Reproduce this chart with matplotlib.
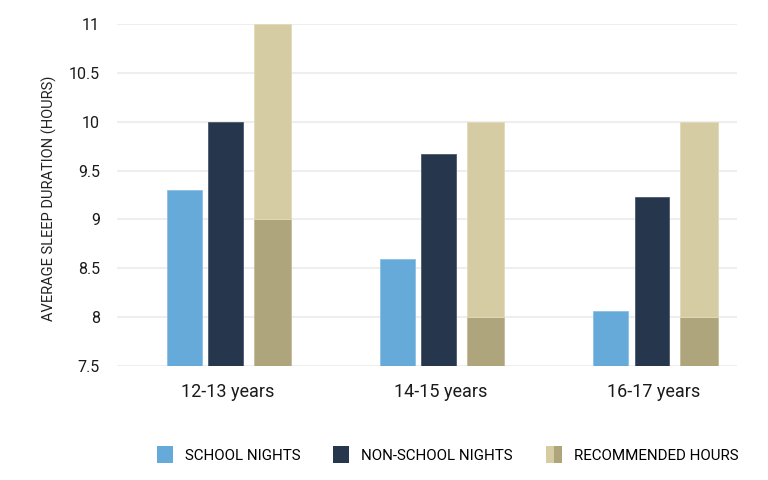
import numpy as np
import matplotlib.pyplot as plt
from matplotlib.patches import Patch
from matplotlib.legend_handler import HandlerTuple

plt.rcParams['font.family'] = ['Roboto', 'DejaVu Sans']

# data
age_groups = ["12-13 years", "14-15 years", "16-17 years"]
school_nights = [9.3, 8.6, 8.06]
non_school_nights = [10.0, 9.67, 9.23]
rec_min = [9.0, 8.0, 8.0]
rec_max = [11.0, 10.0, 10.0]

c_school = "#66aad9"
c_nonschool = "#26364c"
c_rec_light = "#d6cca3"
c_rec_dark = "#afa57c"

base = 7.5
x = np.arange(len(age_groups))
w = 0.163

fig = plt.figure(figsize=(7.68, 4.8), dpi=100)
ax = fig.add_axes([0.152, 0.2375, 0.808, 0.7125])

ax.bar(x - 0.193, np.array(school_nights) - base, w, bottom=base,
       color=c_school, edgecolor="#8cc0e6", linewidth=0.6, zorder=3)
ax.bar(x, np.array(non_school_nights) - base, w, bottom=base,
       color=c_nonschool, edgecolor="#4a5870", linewidth=0.6, zorder=3)
ax.bar(x + 0.22, np.array(rec_min) - base, 0.175, bottom=base,
       color=c_rec_dark, edgecolor="#c4bb96", linewidth=0.6, zorder=3)
ax.bar(x + 0.22, np.array(rec_max) - np.array(rec_min), 0.175, bottom=rec_min,
       color=c_rec_light, edgecolor="#e2dabb", linewidth=0.6, zorder=3)

ax.set_ylim(7.5, 11.0)
ax.set_xlim(-0.51, 2.40)
ax.set_yticks([7.5, 8, 8.5, 9, 9.5, 10, 10.5, 11])
ax.set_yticklabels(["7.5", "8", "8.5", "9", "9.5", "10", "10.5", "11"])
ax.set_xticks(x + 0.01)
ax.set_xticklabels(age_groups, fontsize=13, color="#1a1a1a")
ax.tick_params(axis='y', length=0, labelsize=11.5, labelcolor="#1a1a1a", pad=12)
ax.tick_params(axis='x', length=0, pad=12)
ax.grid(axis='y', color="#eeeeee", linewidth=1.5, zorder=0)
for s in ax.spines.values():
    s.set_visible(False)

ax.set_ylabel("AVERAGE SLEEP DURATION (HOURS)", fontsize=10.5, color="#222222")
ax.yaxis.set_label_coords(-0.097, 0.49)

handles = [
    Patch(facecolor=c_school),
    Patch(facecolor=c_nonschool),
    (Patch(facecolor=c_rec_light), Patch(facecolor=c_rec_dark)),
]
labels = ["SCHOOL NIGHTS", "NON-SCHOOL NIGHTS", "RECOMMENDED HOURS"]
fig.legend(handles, labels, loc="center", bbox_to_anchor=(0.583, 0.053), ncol=3,
           frameon=False, fontsize=10.9, handlelength=1.05, handleheight=1.3,
           handletextpad=0.8, columnspacing=2.2,
           handler_map={tuple: HandlerTuple(ndivide=None, pad=0)})

fig.savefig("out.png", dpi=100)
